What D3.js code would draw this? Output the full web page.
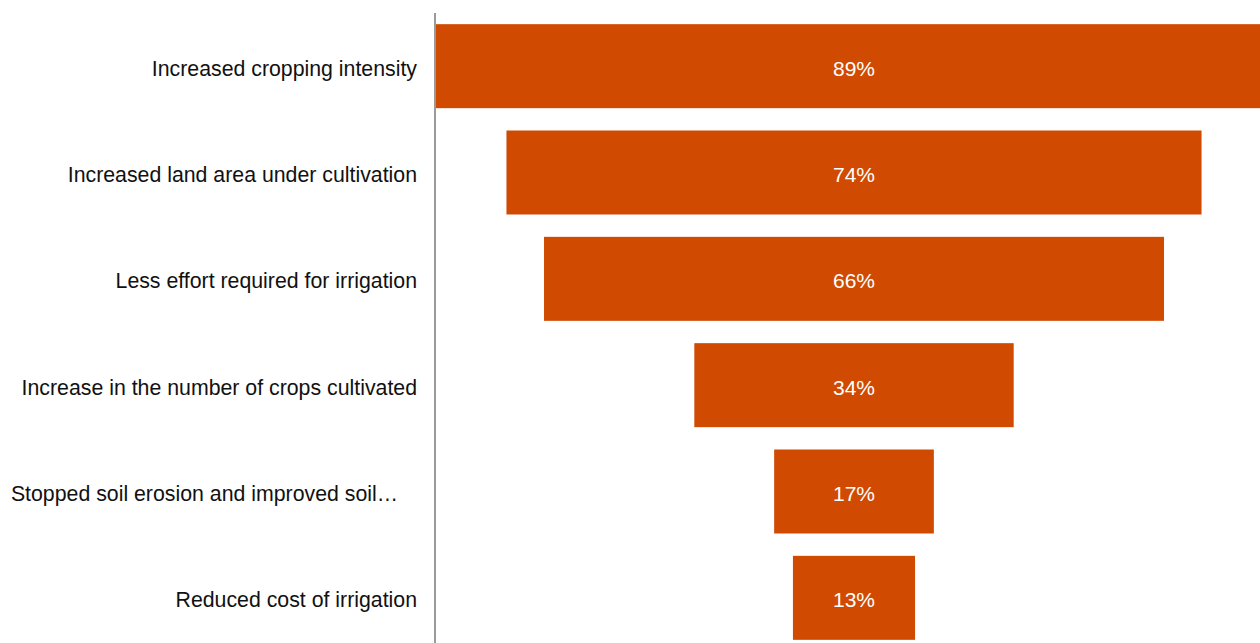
<!DOCTYPE html>
<html>
<head>
<meta charset="utf-8">
<script src="https://cdn.jsdelivr.net/npm/d3@7"></script>
<style>
  html, body { margin: 0; padding: 0; background: #fff; }
  svg { display: block; }
</style>
</head>
<body>
<div id="funnel"></div>
<script>
// chart data
const categories = [
  "Increased cropping intensity",
  "Increased land area under cultivation",
  "Less effort required for irrigation",
  "Increase in the number of crops cultivated",
  "Stopped soil erosion and improved soil\u2026",
  "Reduced cost of irrigation"
];
const values = [89, 74, 66, 34, 17, 13];

const width = 1260, height = 643;
const axisX = 435;
const centerX = 854;

const svg = d3.select("#funnel")
  .append("svg")
  .attr("width", width)
  .attr("height", height);

// band for rows
const y = d3.scaleBand()
  .domain(categories)
  .range([13, 651])
  .paddingInner(0.21)
  .paddingOuter(0.105);

// bar width scale, bars are centred on centerX
const w = d3.scaleLinear()
  .domain([0, 89])
  .range([0, 836]);

const rows = categories.map((c, i) => ({ cat: c, val: values[i] }));

svg.selectAll("rect.bar")
  .data(rows)
  .enter()
  .append("rect")
  .attr("class", "bar")
  .attr("x", d => centerX - w(d.val) / 2)
  .attr("y", d => y(d.cat))
  .attr("width", d => w(d.val))
  .attr("height", y.bandwidth())
  .attr("fill", "#d04a02");

svg.selectAll("text.val")
  .data(rows)
  .enter()
  .append("text")
  .attr("class", "val")
  .attr("x", centerX)
  .attr("y", d => y(d.cat) + y.bandwidth() / 2)
  .attr("dy", "0.45em")
  .attr("text-anchor", "middle")
  .attr("fill", "#fff")
  .style("font-family", "'Liberation Sans', Arial, sans-serif")
  .style("font-size", "21px")
  .text(d => d.val + "%");

// category labels on the left
const yAxis = svg.append("g")
  .attr("transform", "translate(" + axisX + ",0)")
  .call(d3.axisLeft(y).tickSize(0).tickPadding(18));

yAxis.select(".domain").remove();
yAxis.selectAll("text")
  .attr("fill", "#111")
  .attr("dy", "0.45em")
  // truncated label sits a little further left
  .attr("dx", d => d.endsWith("\u2026") ? -19 : 0)
  .style("font-family", "'Liberation Sans', Arial, sans-serif")
  .style("font-size", "21.3px");

// vertical axis line
svg.append("line")
  .attr("x1", axisX).attr("x2", axisX)
  .attr("y1", 13).attr("y2", height)
  .attr("stroke", "#9a9a9a")
  .attr("stroke-width", 2);
</script>
</body>
</html>
